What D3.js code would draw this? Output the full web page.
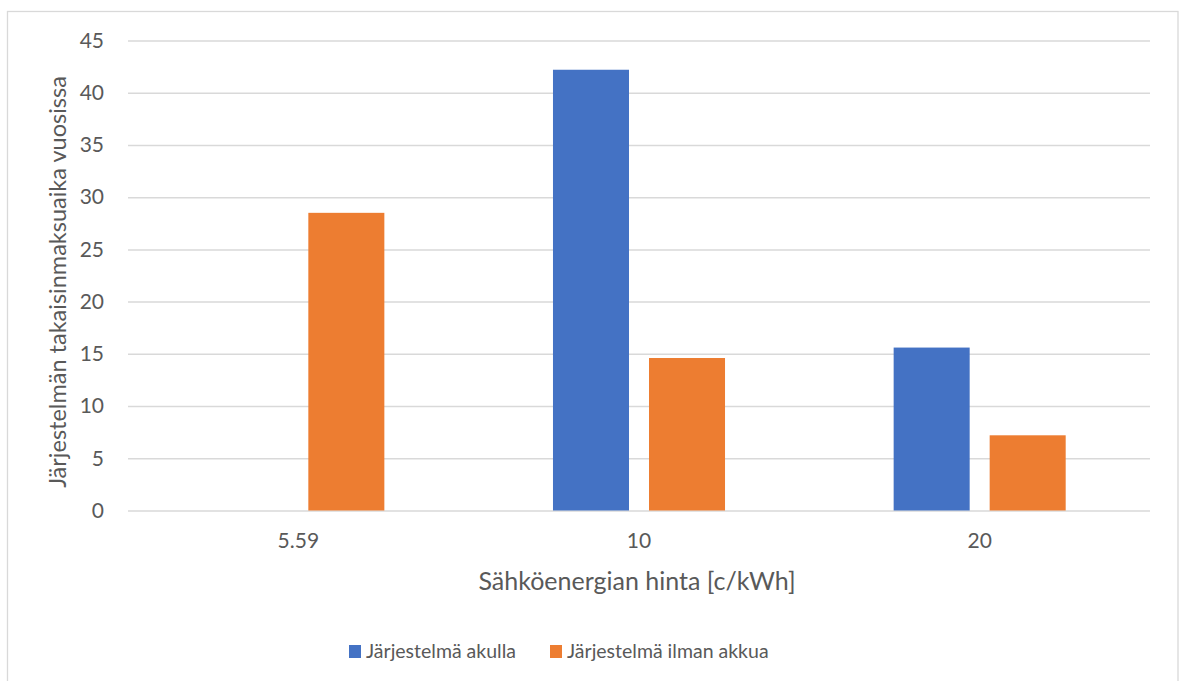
<!DOCTYPE html>
<html>
<head>
<meta charset="utf-8">
<script src="https://cdn.jsdelivr.net/npm/d3@7"></script>
<style>
  html, body { margin: 0; padding: 0; background: #fff; }
  svg { display: block; }
  text { font-family: Lato, "Open Sans", sans-serif; fill: #595959; }
</style>
</head>
<body>
<svg id="chart" width="1179" height="681"></svg>
<script>
const categories = ["5.59", "10", "20"];
const seriesNames = ["Järjestelmä akulla", "Järjestelmä ilman akkua"];
const withBattery = [0, 42.2, 15.6];
const withoutBattery = [28.5, 14.6, 7.2];
const yTicks = [0, 5, 10, 15, 20, 25, 30, 35, 40, 45];
const colors = ["#4472C4", "#ED7D31"];
const xTitle = "Sähköenergian hinta [c/kWh]";
const yTitle = "Järjestelmän takaisinmaksuaika vuosissa";

const seriesValues = [withBattery, withoutBattery];
const svg = d3.select("#chart");
const plot = { left: 128, right: 1150, top: 40.5, bottom: 510.5 };

// chart border
svg.append("rect")
  .attr("x", 7.5).attr("y", 11.5)
  .attr("width", 1170.5).attr("height", 690)
  .attr("fill", "none").attr("stroke", "#d9d9d9").attr("stroke-width", 1.3);

const y = d3.scaleLinear().domain([0, 45]).range([plot.bottom, plot.top]);
const x0 = d3.scaleBand().domain(categories).range([plot.left, plot.right]).padding(0);
const groupW = x0.bandwidth() * 0.505;
const x1 = d3.scaleBand().domain(seriesNames).range([-groupW / 2, groupW / 2]).paddingInner(0.2083);

// gridlines
const yAxis = d3.axisLeft(y).tickValues(yTicks).tickSize(-(plot.right - plot.left)).tickPadding(24);
const gy = svg.append("g").attr("transform", `translate(${plot.left},0)`).call(yAxis);
gy.select(".domain").remove();
gy.selectAll(".tick line").attr("stroke", "#d9d9d9").attr("stroke-width", 1.5);
gy.selectAll(".tick text").attr("font-size", 21).attr("fill", "#595959")
  .attr("font-family", "Lato, sans-serif");

// bars
const data = [];
categories.forEach((c, i) => seriesNames.forEach((s, j) => {
  data.push({ cat: c, series: s, value: seriesValues[j][i], color: colors[j] });
}));
svg.append("g").selectAll("rect").data(data.filter(d => d.value > 0)).join("rect")
  .attr("x", d => x0(d.cat) + x0.bandwidth() / 2 + x1(d.series))
  .attr("width", x1.bandwidth())
  .attr("y", d => y(d.value))
  .attr("height", d => y(0) - y(d.value))
  .attr("fill", d => d.color);

// x axis labels
const xAxis = d3.axisBottom(x0).tickSize(0).tickPadding(23);
const gx = svg.append("g").attr("transform", `translate(0,${plot.bottom})`).call(xAxis);
gx.select(".domain").remove();
gx.selectAll(".tick text").attr("font-size", 21).attr("fill", "#595959")
  .attr("font-family", "Lato, sans-serif");

// axis titles
svg.append("text").attr("x", (plot.left + plot.right) / 2 - 2).attr("y", 590)
  .attr("text-anchor", "middle").attr("font-size", 25).text(xTitle);
svg.append("text").attr("transform", `translate(66,${282}) rotate(-90)`)
  .attr("text-anchor", "middle").attr("font-size", 23.5).text(yTitle);

// legend
const legendItems = [
  { name: seriesNames[0], color: colors[0], x: 349 },
  { name: seriesNames[1], color: colors[1], x: 550 }
];
const lg = svg.append("g");
legendItems.forEach(it => {
  lg.append("rect").attr("x", it.x).attr("y", 645).attr("width", 12).attr("height", 13).attr("fill", it.color);
  lg.append("text").attr("x", it.x + 17).attr("y", 658).attr("font-size", 19.5).text(it.name);
});
</script>
</body>
</html>
